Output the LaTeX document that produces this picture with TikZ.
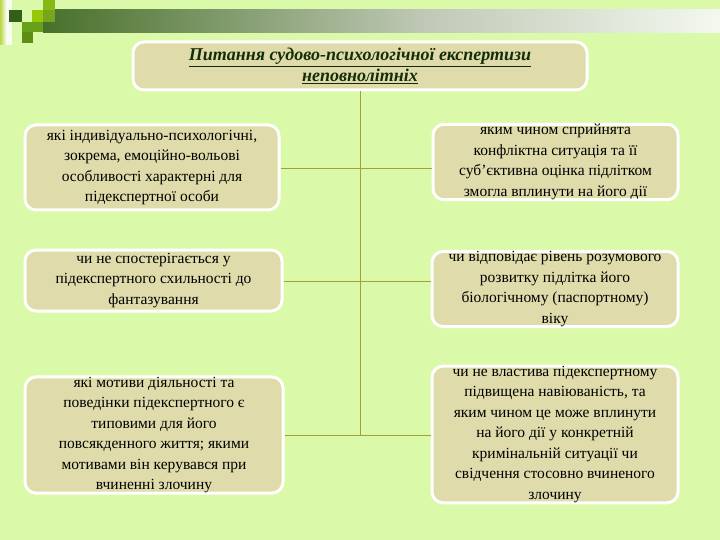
\documentclass[tikz,border=0pt]{standalone}
\usepackage{fontspec}
\setmainfont{Liberation Serif}
\definecolor{bgc}{RGB}{218,250,170}
\definecolor{boxc}{RGB}{223,219,170}
\definecolor{linec}{RGB}{170,160,50}
\definecolor{titlec}{RGB}{20,45,8}
\definecolor{dg}{RGB}{72,112,42}
\definecolor{mg}{RGB}{190,200,180}
\definecolor{lg}{RGB}{244,248,240}
\definecolor{sqa}{RGB}{185,215,70}
\definecolor{sqb}{RGB}{50,95,25}
\definecolor{sqc}{RGB}{150,200,10}
\definecolor{sqd}{RGB}{135,185,20}
\definecolor{sqe}{RGB}{120,165,30}
\definecolor{sqf}{RGB}{105,160,25}
\definecolor{sqg}{RGB}{95,140,20}
\tikzset{
  box/.style={draw=white, line width=3pt, fill=boxc, rounded corners=11pt,
    inner sep=0pt, align=center, font=\fontsize{15.5}{20.5}\selectfont, text=black},
  conn/.style={draw=linec, line width=1pt},
}
\begin{document}
\begin{tikzpicture}[x=1pt,y=-1pt]
\useasboundingbox (0,0) rectangle (720,540);
\fill[bgc] (0,0) rectangle (720,540);
% top decoration
\shade[left color=dg, right color=mg] (43,10) rectangle (420,33);
\shade[left color=mg, right color=lg] (420,10) rectangle (720,33);
\shade[left color=sqa, right color=white] (0,0) rectangle (7,45);
\fill[white!85!bgc] (7,0) rectangle (12,45);
\fill[sqb] (9,10) rectangle (22,22);
\fill[sqc] (32,10) rectangle (43,22);
\fill[sqd] (43,0) rectangle (55,10);
\fill[sqe] (43,10) rectangle (55,22);
\fill[sqf] (22,22) rectangle (43,32);
\fill[sqg] (22,32) rectangle (33,43);
% title
\node[box, minimum width=454pt, minimum height=48pt, text=titlec,
  font=\fontsize{18}{21}\selectfont\bfseries\itshape] (T) at (360,66)
  {\underline{Питання судово-психологічної експертизи}\\\underline{неповнолітніх}};
% boxes
\node[box, minimum width=254pt, minimum height=85pt] (L1) at (152,167.5)
  {які індивідуально-психологічні,\\зокрема, емоційно-вольові\\особливості характерні для\\підекспертної особи};
\node[box, minimum width=245pt, minimum height=72pt] (R1) at (555.5,162)
  {яким чином сприйнята\\конфліктна ситуація та її\\суб'єктивна оцінка підлітком\\змогла вплинути на його дії};
\node[box, minimum width=257pt, minimum height=61pt] (L2) at (153.5,280.5)
  {чи не спостерігається у\\підекспертного схильності до\\фантазування};
\node[box, minimum width=246pt, minimum height=72pt] (R2) at (555,289)
  {чи відповідає рівень розумового\\розвитку підлітка його\\біологічному (паспортному)\\віку};
\node[box, minimum width=258pt, minimum height=114pt] (L3) at (154,435)
  {які мотиви діяльності та\\поведінки підекспертного є\\типовими для його\\повсякденного життя; якими\\мотивами він керувався при\\вчиненні злочину};
\node[box, minimum width=246pt, minimum height=135pt] (R3) at (555,434.5)
  {чи не властива підекспертному\\підвищена навіюваність, та\\яким чином це може вплинути\\на його дії у конкретній\\кримінальній ситуації чи\\свідчення стосовно вчиненого\\злочину};
% connectors
\coordinate (j1) at (360,169);
\coordinate (j2) at (360,281);
\coordinate (j3) at (360,435);
\draw[conn] (T.south) -- (j3);
\draw[conn] (j1 -| L1.east) -- (j1 -| R1.west);
\draw[conn] (j2 -| L2.east) -- (j2 -| R2.west);
\draw[conn] (j3 -| L3.east) -- (j3 -| R3.west);
\end{tikzpicture}
\end{document}
